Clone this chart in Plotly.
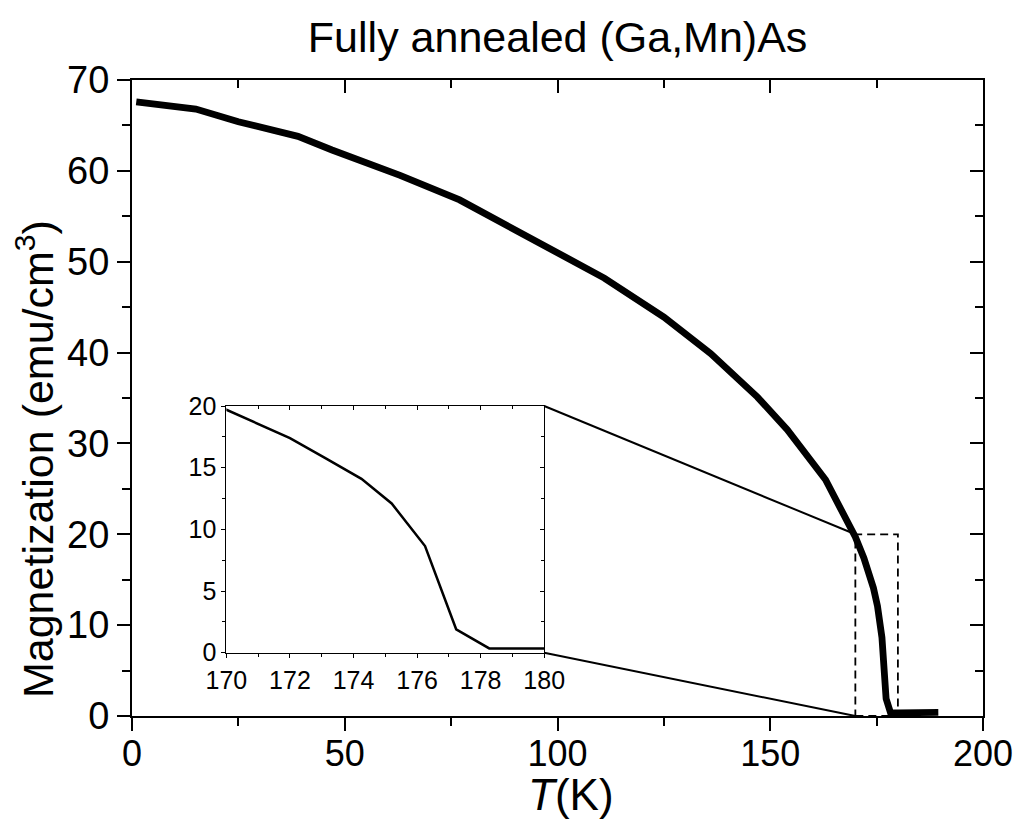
import plotly.graph_objects as go

# Data
T_K = [1, 15, 25, 39, 47, 56, 63, 77, 96, 111, 125, 136, 147, 154, 163, 168,
       170, 172, 173.1, 174.25, 175.2, 176.25, 177.23, 178.27, 180, 189.5]
M_emu = [67.6, 66.8, 65.4, 63.8, 62.3, 60.8, 59.5, 56.8, 52.0, 48.2, 43.9, 39.9,
         35.1, 31.5, 26.0, 21.4, 19.7, 17.4, 15.8, 14.1, 12.1, 8.65, 1.9, 0.35,
         0.35, 0.4]

TITLE = "Fully annealed (Ga,Mn)As"
X_TITLE = "<i>T</i>(K)"
Y_TITLE = "Magnetization (emu/cm<sup>3</sup>)"

MAIN_X = [0, 200]
MAIN_Y = [0, 70]
ZOOM_X = [170, 180]
ZOOM_Y = [0, 20]
INSET_DX = [0.1109, 0.4844]
INSET_DY = [0.0995, 0.4874]

FONT = "Liberation Sans, Arial, sans-serif"

fig = go.Figure()
fig.add_trace(go.Scatter(x=T_K, y=M_emu, mode="lines",
                         line=dict(color="black", width=6.8), showlegend=False,
                         xaxis="x", yaxis="y"))
fig.add_trace(go.Scatter(x=[0], y=[0], mode="markers", marker=dict(opacity=0),
                         xaxis="x2", yaxis="y2", showlegend=False, hoverinfo="skip"))
fig.add_trace(go.Scatter(x=T_K, y=M_emu, mode="lines",
                         line=dict(color="black", width=2.5), showlegend=False,
                         xaxis="x3", yaxis="y3"))
fig.add_trace(go.Scatter(x=[170], y=[0], mode="markers", marker=dict(opacity=0),
                         xaxis="x4", yaxis="y4", showlegend=False, hoverinfo="skip"))

axcommon = dict(showgrid=False, zeroline=False, linecolor="black", tickcolor="black")

fig.update_layout(
    width=1025, height=827,
    margin=dict(l=132, r=39, t=80, b=111),
    paper_bgcolor="white", plot_bgcolor="white",
    font=dict(family=FONT, color="black"),
    title=dict(text=TITLE, x=0.544, xanchor="center", y=0.955, yanchor="middle",
               yref="container", font=dict(size=43, family=FONT)),
    xaxis=dict(**axcommon, range=MAIN_X, domain=[0, 1], showline=True, linewidth=2,
               mirror=True, ticks="outside", ticklen=13, tickwidth=2, dtick=50,
               tick0=0, tickfont=dict(size=36), ticklabelstandoff=-8,
               minor=dict(ticks="outside", ticklen=8, tickwidth=2, dtick=25,
                          tick0=0, tickcolor="black"),
               anchor="y"),
    yaxis=dict(**axcommon, range=MAIN_Y, domain=[0, 1], showline=True, linewidth=2,
               mirror=True, ticks="outside", ticklen=13, tickwidth=2, dtick=10,
               tick0=0, tickfont=dict(size=38),
               minor=dict(ticks="outside", ticklen=8, tickwidth=2, dtick=5,
                          tick0=0, tickcolor="black"),
               anchor="x"),
    xaxis2=dict(**axcommon, range=MAIN_X, overlaying="x", side="top", anchor="y2",
                showline=False, ticks="inside", ticklen=13, tickwidth=2, dtick=50,
                tick0=0, showticklabels=False,
                minor=dict(ticks="inside", ticklen=8, tickwidth=2, dtick=25,
                           tick0=0, tickcolor="black")),
    yaxis2=dict(**axcommon, range=MAIN_Y, overlaying="y", side="right", anchor="x2",
                showline=False, ticks="inside", ticklen=13, tickwidth=2, dtick=10,
                tick0=0, showticklabels=False,
                minor=dict(ticks="inside", ticklen=8, tickwidth=2, dtick=5,
                           tick0=0, tickcolor="black")),
    xaxis3=dict(**axcommon, range=ZOOM_X, domain=INSET_DX, anchor="y3",
                showline=True, linewidth=1, mirror=True, ticks="outside",
                ticklen=4, tickwidth=1, dtick=2, tick0=170,
                tickfont=dict(size=25), ticklabelstandoff=1,
                minor=dict(ticks="outside", ticklen=3, tickwidth=1, dtick=1,
                           tick0=170, tickcolor="black")),
    yaxis3=dict(**axcommon, range=ZOOM_Y, domain=INSET_DY, anchor="x3",
                showline=True, linewidth=1, mirror=True, ticks="outside",
                ticklen=4, tickwidth=1, dtick=5, tick0=0,
                tickfont=dict(size=25),
                minor=dict(ticks="outside", ticklen=3, tickwidth=1, dtick=2.5,
                           tick0=0, tickcolor="black")),
    xaxis4=dict(**axcommon, range=ZOOM_X, overlaying="x3", side="top", anchor="y4",
                showline=False, ticks="inside", ticklen=4, tickwidth=1, dtick=2,
                tick0=170, showticklabels=False,
                minor=dict(ticks="inside", ticklen=3, tickwidth=1, dtick=1,
                           tick0=170, tickcolor="black")),
    yaxis4=dict(**axcommon, range=ZOOM_Y, overlaying="y3", side="right", anchor="x4",
                showline=False, ticks="inside", ticklen=4, tickwidth=1, dtick=5,
                tick0=0, showticklabels=False,
                minor=dict(ticks="inside", ticklen=3, tickwidth=1, dtick=2.5,
                           tick0=0, tickcolor="black")),
)

# axis titles
fig.add_annotation(text=X_TITLE, xref="paper", yref="paper", x=0.516, y=-0.124,
                   xanchor="center", yanchor="middle", showarrow=False,
                   font=dict(size=44, family=FONT))
fig.add_annotation(text=Y_TITLE, xref="paper", yref="paper", x=-0.114, y=0.404,
                   xanchor="center", yanchor="middle", showarrow=False, textangle=-90,
                   font=dict(size=43, family=FONT))

# dashed zoom rectangle on the main axes
fig.add_shape(type="rect", xref="x", yref="y", x0=ZOOM_X[0], x1=ZOOM_X[1],
              y0=ZOOM_Y[0], y1=ZOOM_Y[1],
              line=dict(color="black", width=1.8, dash="8px,5px"))

# connector lines: inset right corners -> left corners of zoom rectangle
def to_paper_x(v):
    return (v - MAIN_X[0]) / (MAIN_X[1] - MAIN_X[0])

def to_paper_y(v):
    return (v - MAIN_Y[0]) / (MAIN_Y[1] - MAIN_Y[0])

fig.add_shape(type="line", xref="paper", yref="paper",
              x0=INSET_DX[1], y0=INSET_DY[1],
              x1=to_paper_x(ZOOM_X[0]), y1=to_paper_y(ZOOM_Y[1]),
              line=dict(color="black", width=2))
fig.add_shape(type="line", xref="paper", yref="paper",
              x0=INSET_DX[1], y0=INSET_DY[0],
              x1=to_paper_x(ZOOM_X[0]), y1=to_paper_y(ZOOM_Y[0]),
              line=dict(color="black", width=2))

fig.write_html("out.html")
